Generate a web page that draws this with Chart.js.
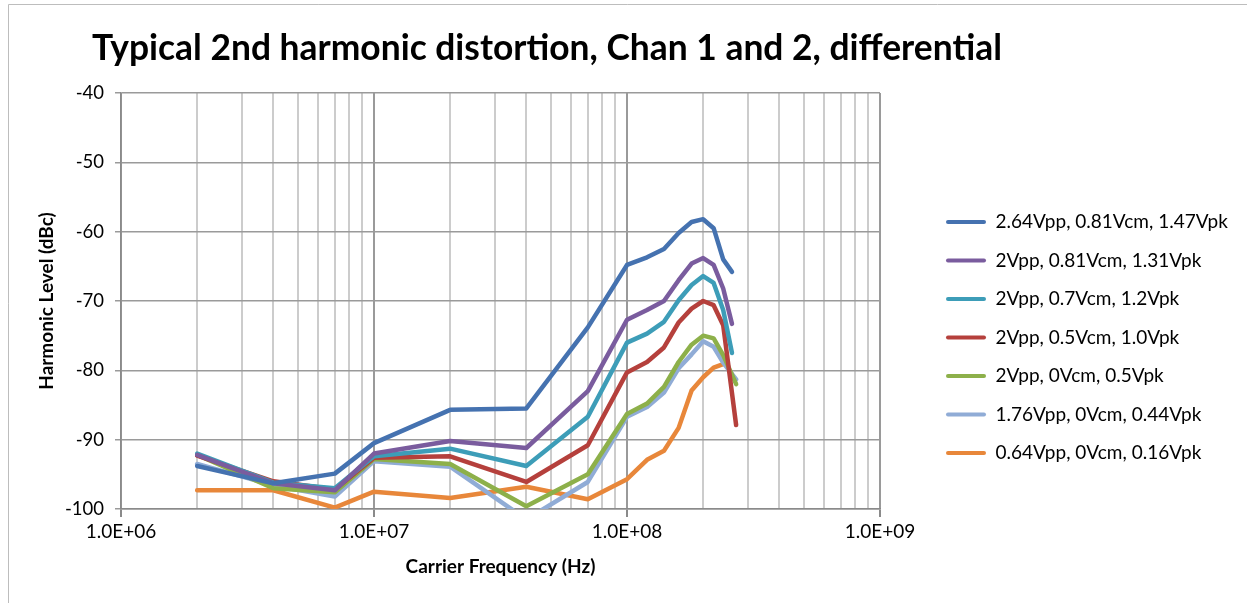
<!DOCTYPE html>
<html>
<head>
<meta charset="utf-8">
<script src="https://cdn.jsdelivr.net/npm/chart.js@4.4.1/dist/chart.umd.min.js"></script>
<style>
  html, body { margin: 0; padding: 0; background: #fff; }
  #wrap { width: 1247px; height: 603px; }
</style>
</head>
<body>
<div id="wrap"><canvas id="harmonicChart" width="1247" height="603"></canvas></div>
<script>
// carrier frequencies (Hz) shared by all series; null = no point
const freqHz = [2e6, 4e6, 7e6, 1e7, 2e7, 4e7, 7e7, 1e8, 1.2e8, 1.4e8, 1.6e8, 1.8e8, 2e8, 2.2e8, 2.4e8, 2.6e8, 2.7e8];

const seriesNames = [
  "2.64Vpp, 0.81Vcm, 1.47Vpk",
  "2Vpp, 0.81Vcm, 1.31Vpk",
  "2Vpp, 0.7Vcm, 1.2Vpk",
  "2Vpp, 0.5Vcm, 1.0Vpk",
  "2Vpp, 0Vcm, 0.5Vpk",
  "1.76Vpp, 0Vcm, 0.44Vpk",
  "0.64Vpp, 0Vcm, 0.16Vpk",
];

// harmonic level in dBc
const lvl264 = [-93.8, -96.3, -94.9, -90.5, -85.7, -85.5, -73.8, -64.8, -63.7, -62.5, -60.2, -58.6, -58.2, -59.5, -64.0, -65.8, null];
const lvl2_081 = [-92.2, -96.3, -97.3, -92.0, -90.2, -91.2, -83.0, -72.7, -71.3, -70.0, -67.0, -64.6, -63.8, -64.8, -68.2, -73.3, null];
const lvl2_07 = [-92.0, -96.2, -97.0, -92.4, -91.3, -93.8, -86.7, -76.0, -74.7, -73.0, -69.9, -67.7, -66.4, -67.4, -71.3, -77.5, null];
const lvl2_05 = [-92.3, -96.0, -97.2, -92.6, -92.4, -96.1, -90.8, -80.3, -78.8, -76.7, -73.1, -71.1, -70.0, -70.6, -73.5, null, -87.9];
const lvl2_0 = [-92.2, -97.0, -97.6, -92.8, -93.5, -99.6, -95.0, -86.3, -84.8, -82.4, -78.8, -76.3, -75.0, -75.4, -77.8, null, -82.0];
const lvl176 = [-93.5, -96.6, -98.2, -93.1, -93.9, -101.5, -96.1, -86.7, -85.3, -83.2, -79.7, -77.7, -75.8, -76.6, -78.9, null, -81.3];
const lvl064 = [-97.3, -97.3, -99.8, -97.5, -98.4, -96.8, -98.6, -95.7, -92.9, -91.6, -88.3, -82.9, -81.0, -79.6, -79.1, null, null];

const seriesColors = ["#4572B0", "#7A5C9E", "#3D9DB8", "#B5403C", "#8DB04A", "#90ACD6", "#E8873A"];

const decades = [1e6, 1e7, 1e8, 1e9];
const yMin = -100, yMax = -40, yStep = 10;

const allLevels = [lvl264, lvl2_081, lvl2_07, lvl2_05, lvl2_0, lvl176, lvl064];

// log grid: 1..9 x each decade, then the top decade
const xTickValues = [];
for (let d = 0; d < decades.length - 1; d++) {
  for (let k = 1; k <= 9; k++) xTickValues.push(k * decades[d]);
}
xTickValues.push(decades[decades.length - 1]);

function sciLabel(v) {
  const e = Math.round(Math.log10(v));
  return (v / Math.pow(10, e)).toFixed(1) + "E+" + String(e).padStart(2, "0");
}

const LEGEND_X = 946;
const LEGEND_Y = 212.5;
const LEGEND_PAD = 19.5;

const frameAndTitle = {
  id: "frameAndTitle",
  afterInit(chart) {
    const lg = chart.legend;
    const fit = lg.fit;
    lg.fit = function () {
      fit.call(this);
      this.width = 310;
    };
  },
  afterLayout(chart) {
    const lg = chart.legend;
    const w = lg.width, h = lg.height;
    lg.left = LEGEND_X - LEGEND_PAD;
    lg.right = lg.left + w;
    lg.top = LEGEND_Y - LEGEND_PAD;
    lg.bottom = lg.top + h;
  },
  beforeDraw(chart) {
    const ctx = chart.ctx;
    ctx.save();
    ctx.fillStyle = "#fff";
    ctx.fillRect(0, 0, chart.width, chart.height);
    ctx.strokeStyle = "#bdbdbd";
    ctx.lineWidth = 1;
    ctx.beginPath();
    ctx.moveTo(8.5, 4.5);
    ctx.lineTo(8.5, chart.height);
    ctx.moveTo(8.5, 4.5);
    ctx.lineTo(chart.width, 4.5);
    ctx.stroke();
    ctx.fillStyle = "#000";
    ctx.font = "bold 35.4px Lato";
    ctx.textBaseline = "alphabetic";
    ctx.fillText("Typical 2nd harmonic distortion, Chan 1 and 2, differential", 92, 60);
    ctx.restore();
  },
};

const datasets = allLevels.map((lv, i) => ({
  label: seriesNames[i],
  data: freqHz.map((f, j) => ({ x: f, y: lv[j] })).filter((p) => p.y !== null),
  borderColor: seriesColors[i],
  backgroundColor: seriesColors[i],
  borderWidth: 4.5,
  pointRadius: 0,
  tension: 0,
  borderJoinStyle: "round",
  borderCapStyle: "round",
}));

new Chart(document.getElementById("harmonicChart"), {
  type: "line",
  data: { datasets: datasets },
  options: {
    responsive: false,
    animation: false,
    layout: { padding: { top: 93, left: 0, bottom: 0, right: 57 } },
    plugins: {
      title: { display: false },
      tooltip: { enabled: false },
      legend: {
        position: "right",
        align: "start",
        labels: {
          boxWidth: 40,
          boxHeight: 4,
          padding: LEGEND_PAD,
          color: "#000",
          font: { family: "Lato", size: 19 },
          generateLabels(chart) {
            return Chart.defaults.plugins.legend.labels.generateLabels(chart).map((l) => {
              l.lineWidth = 0;
              l.borderRadius = 2;
              return l;
            });
          },
        },
      },
    },
    scales: {
      x: {
        type: "logarithmic",
        min: decades[0],
        max: decades[decades.length - 1],
        afterBuildTicks(axis) {
          axis.ticks = xTickValues.map((v) => ({ value: v }));
        },
        afterFit(axis) {
          axis.height = 94;
        },
        ticks: {
          autoSkip: false,
          maxRotation: 0,
          padding: 3,
          color: "#000",
          font: { family: "Lato", size: 19 },
          callback: (v) => (decades.includes(v) ? sciLabel(v) : ""),
        },
        grid: {
          tickLength: 8,
          color: (c) => (c.tick && decades.includes(c.tick.value) ? "#9a9a9a" : "#cccccc"),
          tickColor: (c) => (c.tick && decades.includes(c.tick.value) ? "#8a8a8a" : "rgba(0,0,0,0)"),
          lineWidth: 2,
        },
        border: { color: "#8a8a8a", width: 1.5 },
        title: {
          display: true,
          text: "Carrier Frequency (Hz)",
          color: "#000",
          font: { family: "Lato", size: 19, weight: "bold" },
          padding: { top: 0, bottom: 24.5 },
        },
      },
      y: {
        min: yMin,
        max: yMax,
        afterFit(axis) {
          axis.width = 121;
        },
        ticks: {
          stepSize: yStep,
          padding: 11,
          color: "#000",
          font: { family: "Lato", size: 18.5 },
        },
        grid: { color: "#9a9a9a", lineWidth: 1.5, tickLength: 6 },
        border: { color: "#8a8a8a", width: 1.5 },
        title: {
          display: true,
          text: "Harmonic Level (dBc)",
          color: "#000",
          font: { family: "Lato", size: 19, weight: "bold" },
          padding: { top: 35.5, bottom: 0 },
        },
      },
    },
  },
  plugins: [frameAndTitle],
});
</script>
</body>
</html>
